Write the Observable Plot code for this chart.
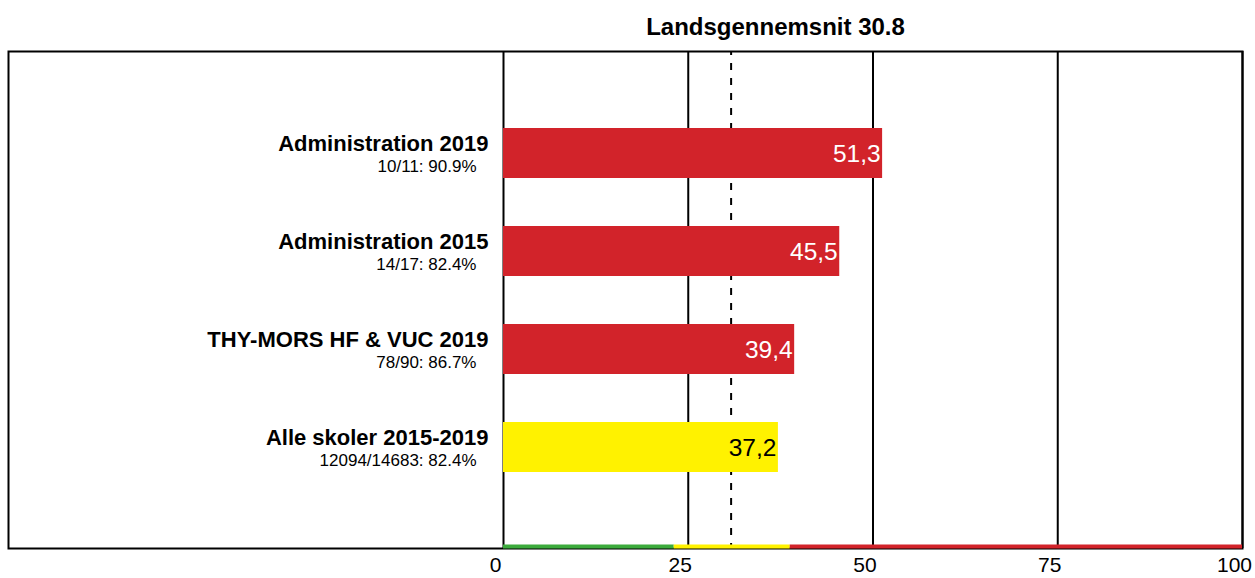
<!DOCTYPE html>
<html>
<head>
<meta charset="utf-8">
<script src="https://cdn.jsdelivr.net/npm/d3@7"></script>
<script src="https://cdn.jsdelivr.net/npm/@observablehq/plot@0.6"></script>
<style>
  html, body { margin: 0; padding: 0; background: #fff; }
  svg { font-family: "Liberation Sans", Arial, sans-serif; }
</style>
</head>
<body>
<div id="chart"></div>
<script>
const title = "Landsgennemsnit 30.8";
const nationalAverage = 30.8;
const categories = ["Administration 2019", "Administration 2015", "THY-MORS HF & VUC 2019", "Alle skoler 2015-2019"];
const subLabels = ["10/11: 90.9%", "14/17: 82.4%", "78/90: 86.7%", "12094/14683: 82.4%"];
const values = [51.3, 45.5, 39.4, 37.2];
const gridTicks = [0, 25, 50, 75, 100];
const bandStarts = [0, 23.1, 38.8];
const bandEnds = [23.1, 38.8, 100];
const bandColors = ["#3cab3c", "#fff200", "#d2232a"];

const bands = bandStarts.map((s, i) => ({from: s, to: bandEnds[i], color: bandColors[i]}));
const colorFor = v => bands.find(b => v >= b.from && v < b.to).color;
const rows = categories.map((c, i) => ({name: c, sub: subLabels[i], value: values[i]}));
const fmt = v => v.toFixed(1).replace(".", ",");

const chart = Plot.plot({
  width: 1255,
  height: 578,
  marginLeft: 8,
  marginRight: 13,
  marginTop: 51,
  marginBottom: 30,
  x: {domain: [0, 100], range: [503, 1242], axis: null},
  y: {domain: categories, range: [127, 473], paddingInner: 0.493, paddingOuter: 0, axis: null},
  marks: [
    Plot.ruleX(gridTicks, {stroke: "black", strokeWidth: 2}),
    Plot.ruleX([nationalAverage], {stroke: "black", strokeWidth: 2, strokeDasharray: "7,8", strokeDashoffset: 3}),
    Plot.frame({stroke: "black", strokeWidth: 2}),
    Plot.barX(rows, {x: "value", y: "name", fill: d => colorFor(d.value)}),
    Plot.rect(bands, {x1: "from", x2: "to", fill: "color", insetTop: 493.5, insetBottom: -0.5}),
    Plot.text(rows, {x: "value", y: "name", text: d => fmt(d.value), textAnchor: "end", dx: -2, dy: 0.3,
      fill: d => colorFor(d.value) === "#fff200" ? "black" : "white", fontSize: 24.5}),
    Plot.text(rows, {x: () => 0, y: "name", text: "name", textAnchor: "end", dx: -15, dy: -9.7,
      fontWeight: "bold", fontSize: 22, fill: "black"}),
    Plot.text(rows, {x: () => 0, y: "name", text: "sub", textAnchor: "end", dx: -27, dy: 13.3,
      fontSize: 17, fill: "black"}),
    Plot.text(gridTicks, {x: d => d, text: d => String(d), frameAnchor: "bottom", lineAnchor: "top", dy: 9, dx: -8,
      fontSize: 21, fill: "black"}),
    Plot.text([title], {frameAnchor: "top", lineAnchor: "top", dx: 150, dy: -33.5, fontSize: 24, fontWeight: "bold", fill: "black"})
  ]
});
document.getElementById("chart").appendChild(chart);
</script>
</body>
</html>
